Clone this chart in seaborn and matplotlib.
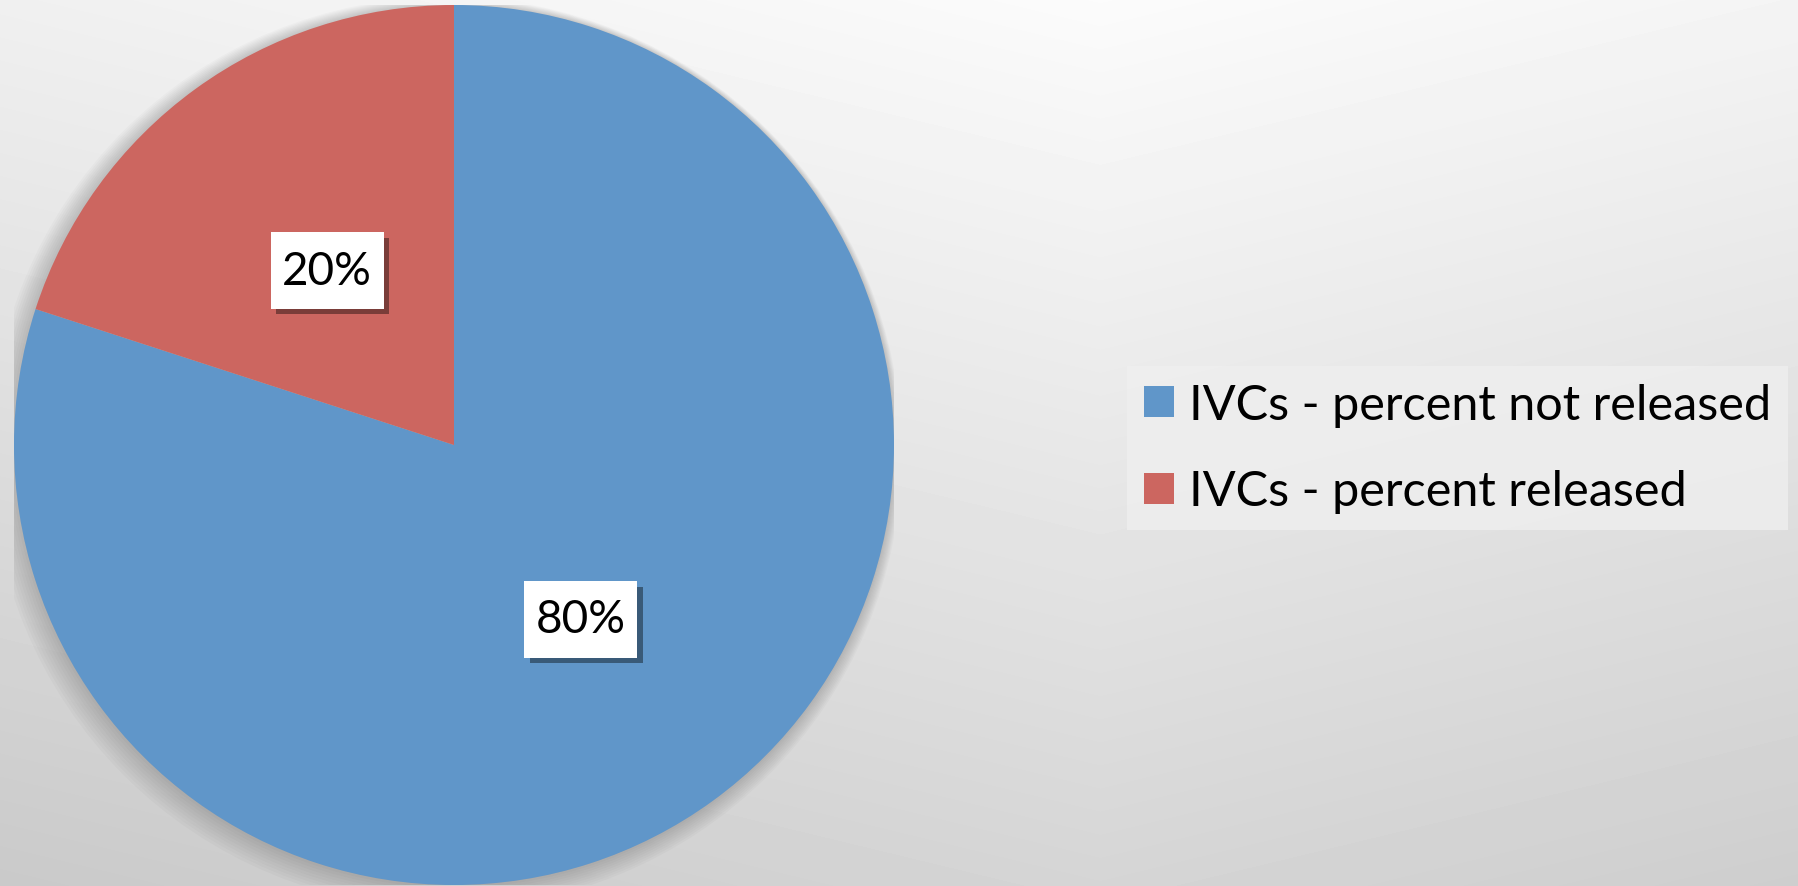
import matplotlib as mpl
import matplotlib.pyplot as plt
import matplotlib.patheffects as pe
import numpy as np
import seaborn as sns

categories = ['IVCs - percent not released', 'IVCs - percent released']
values = [80, 20]
colors = ['#6096C9', '#CC6660']

sns.set_theme(style='white')
plt.rcParams['font.family'] = ['Lato', 'DejaVu Sans']

fig = plt.figure(figsize=(17.98, 8.87), dpi=100)

# soft grey gradient backdrop
bg = fig.add_axes([0, 0, 1, 1], zorder=-10)
yy, xx = np.mgrid[0:887, 0:1798]
shade = 0.985 - 0.15 * (yy / 887) - 0.045 * np.abs(xx - 1100) / 1100
bg.imshow(shade, cmap='gray', vmin=0, vmax=1, aspect='auto')
bg.axis('off')

ax = fig.add_axes([14 / 1798, 1 / 887, 880 / 1798, 880 / 887])
for i in range(10):
    ax.add_patch(mpl.patches.Circle((-0.002 * i, -0.002 * i), 1.0 + 0.004 * i,
                                    color='black', alpha=0.02, zorder=0, lw=0))

wedges, texts, autotexts = ax.pie(values, colors=colors, startangle=90,
                                  counterclock=False, autopct='%1.0f%%',
                                  pctdistance=0.49, radius=1.0,
                                  wedgeprops=dict(linewidth=0, zorder=2),
                                  textprops=dict(fontsize=33, color='black'))

for t in autotexts:
    t.set_zorder(5)
    t.set_bbox(dict(boxstyle='square,pad=0.25', facecolor='white', edgecolor='none',
                    mutation_aspect=1.5))
    t.get_bbox_patch().set_path_effects([
        pe.SimplePatchShadow(offset=(4, -4), shadow_rgbFace='black', alpha=0.4),
        pe.Normal()])
ax.set_xlim(-1, 1)
ax.set_ylim(-1, 1)
ax.set_aspect('equal')
ax.axis('off')

leg = fig.legend(wedges, categories, loc='center left',
                 bbox_to_anchor=(1127 / 1798, 1 - 449 / 887), borderaxespad=0,
                 fontsize=35, frameon=True, fancybox=False, labelcolor='black',
                 handlelength=0.62, handleheight=0.62, handletextpad=0.3,
                 labelspacing=0.88, borderpad=0.35)
leg.get_frame().set_facecolor('#efefef')
leg.get_frame().set_edgecolor('none')
leg.get_frame().set_alpha(0.8)

fig.savefig('out.png', dpi=100)
